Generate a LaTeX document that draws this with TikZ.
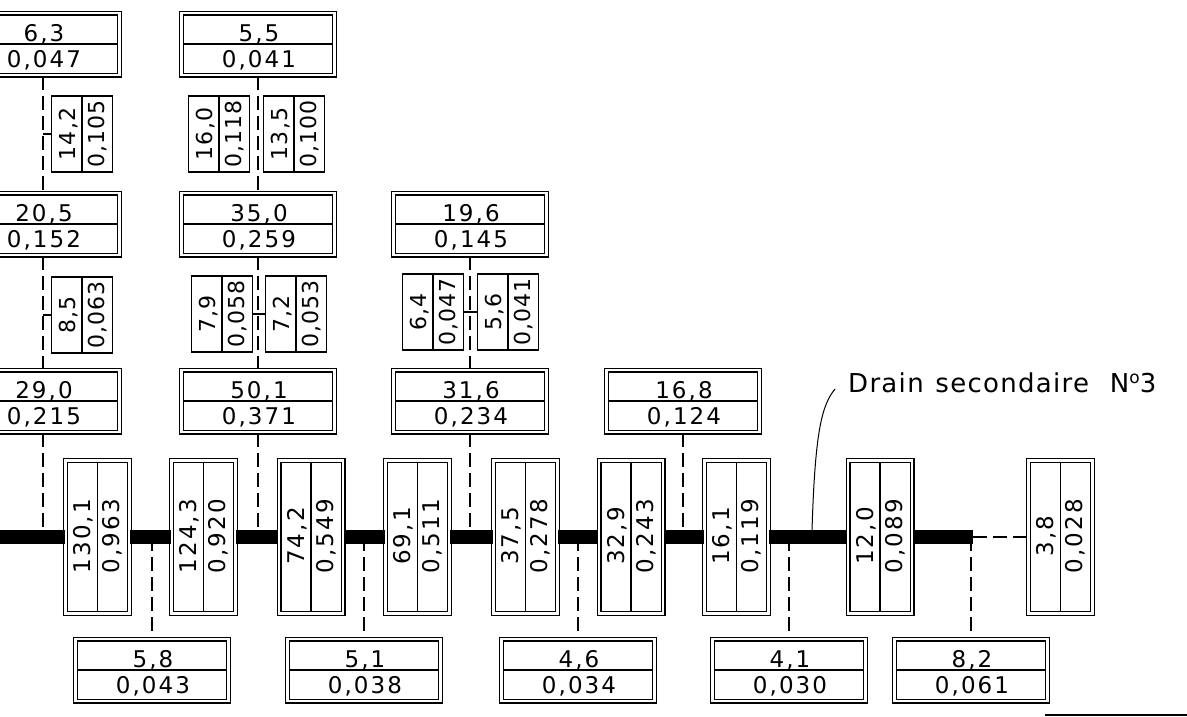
\documentclass[tikz,border=0pt]{standalone}
\usepackage{fontspec}
\setmainfont{DejaVu Sans}
\newfontfamily\numfont[LetterSpace=9]{DejaVu Sans}
\newfontfamily\smallnumfont[LetterSpace=5]{DejaVu Sans}
\newfontfamily\lblfont[LetterSpace=5]{DejaVu Sans}
\newcommand\hcell[5]{%
  \node[hframe] (#1) at (#2,#3) {};
  \draw[divline] ([xshift=2pt]#1.west) -- ([xshift=-2pt]#1.east);
  \node[num] (#1u) at ([xshift=1pt,yshift=3pt]#1.center) {#4};
  \node[num] (#1l) at ([xshift=1pt,yshift=-23pt]#1.center) {#5};
}
\newcommand\vcell[5]{%
  \node[vframe] (#1) at (#2,#3) {};
  \draw[divline] ([yshift=-2pt]#1.north) -- ([yshift=2pt]#1.south);
  \node[vnum] (#1a) at ([xshift=-7pt,yshift=1pt]#1.center) {#4};
  \node[vnum] (#1b) at ([xshift=22pt,yshift=1pt]#1.center) {#5};
}
\newcommand\scell[5]{%
  \node[sframe] (#1) at (#2,#3) {};
  \draw[divline] (#1.north) -- (#1.south);
  \node[snum] (#1a) at ([xshift=-7pt]#1.center) {#4};
  \node[snum] (#1b) at ([xshift=22pt]#1.center) {#5};
}
\begin{document}
\begin{tikzpicture}[x=1pt,y=-1pt,
  hframe/.style={draw, line width=1.3pt, double, double distance=2.4pt, inner sep=0pt, minimum width=153pt, minimum height=62pt},
  vframe/.style={draw, line width=1.3pt, double, double distance=2.4pt, inner sep=0pt, minimum width=64pt, minimum height=153pt},
  sframe/.style={draw, line width=1.1pt, inner sep=0pt, minimum width=61pt, minimum height=76pt},
  divline/.style={line width=1.1pt},
  num/.style={inner sep=0pt, anchor=base, font=\numfont\fontsize{23}{25}\selectfont},
  vnum/.style={num, rotate=90},
  snum/.style={inner sep=0pt, anchor=base, rotate=90, font=\smallnumfont\fontsize{22}{24}\selectfont},
  link/.style={line width=1.3pt, dash pattern=on 14pt off 6pt},
  drain/.style={line width=13.5pt},
  tick/.style={line width=1.1pt},
  leader/.style={line width=1pt},
  lbl/.style={inner sep=0pt, font=\lblfont\fontsize{26}{30}\selectfont},
]
\useasboundingbox (0,0) rectangle (1187,716);
\clip (0,0) rectangle (1187,716);

% junction coordinates on the drain
\coordinate (start) at (0,537);
\coordinate (dend) at (973,537);
\coordinate (jA) at (43,537);
\coordinate (jB) at (258,537);
\coordinate (jC) at (470,537);
\coordinate (jD) at (683,537);
\coordinate (jE) at (152,537);
\coordinate (jF) at (364,537);
\coordinate (jG) at (578,537);
\coordinate (jH) at (789,537);
\coordinate (jI) at (971,537);

% horizontal boxes
\hcell{A1}{43}{44}{6,3}{0,047}
\hcell{B1}{258}{44}{5,5}{0,041}
\hcell{A2}{43}{224}{20,5}{0,152}
\hcell{B2}{258}{224}{35,0}{0,259}
\hcell{C2}{470}{224}{19,6}{0,145}
\hcell{A3}{43}{401}{29,0}{0,215}
\hcell{B3}{258}{401}{50,1}{0,371}
\hcell{C3}{470}{401}{31,6}{0,234}
\hcell{D3}{683}{401}{16,8}{0,124}
\hcell{E}{152}{670}{5,8}{0,043}
\hcell{F}{364}{670}{5,1}{0,038}
\hcell{G}{578}{670}{4,6}{0,034}
\hcell{H}{789}{670}{4,1}{0,030}
\hcell{I}{971}{670}{8,2}{0,061}

% small boxes between rows
\scell{s1}{82}{134}{14,2}{0,105}
\scell{s2}{219}{134}{16,0}{0,118}
\scell{s3}{294}{134}{13,5}{0,100}
\scell{s4}{82}{315}{8,5}{0,063}
\scell{s5}{222}{314}{7,9}{0,058}
\scell{s6}{296}{314}{7,2}{0,053}
\scell{s7}{433}{312}{6,4}{0,047}
\scell{s8}{508}{312}{5,6}{0,041}

% vertical boxes on the drain
\vcell{v1}{97.5}{537}{130,1}{0,963}
\vcell{v2}{203.5}{537}{124,3}{0,920}
\vcell{v3}{311}{537}{74,2}{0,549}
\vcell{v4}{417.5}{537}{69,1}{0,511}
\vcell{v5}{525.5}{537}{37,5}{0,278}
\vcell{v6}{631}{537}{32,9}{0,243}
\vcell{v7}{736.5}{537}{16,1}{0,119}
\vcell{v8}{880}{537}{12,0}{0,089}
\vcell{v9}{1060.5}{537}{3,8}{0,028}

% dashed connectors
\draw[link] (A1.south) -- (A2.north);
\draw[link] (A2.south) -- (A3.north);
\draw[link] (A3.south) -- (jA);
\draw[link] (B1.south) -- (B2.north);
\draw[link] (B2.south) -- (B3.north);
\draw[link] (B3.south) -- (jB);
\draw[link] (C2.south) -- (C3.north);
\draw[link] (C3.south) -- (jC);
\draw[link] (D3.south) -- (jD);
\draw[link] (jE) -- (E.north);
\draw[link] (jF) -- (F.north);
\draw[link] (jG) -- (G.north);
\draw[link] (jH) -- (H.north);
\draw[link] (jI) -- (I.north);
\draw[link] (dend) -- (v9.west);

% ticks to small boxes
\draw[tick] (s1.west) -- (s1.west -| A1.south);
\draw[tick] (s4.west) -- (s4.west -| A2.south);
\draw[tick] (s5.east) -- (s6.west);
\draw[tick] (s7.east) -- (s8.west);

% the drain
\draw[drain] (start) -- (v1.west);
\draw[drain] (v1.east) -- (v2.west);
\draw[drain] (v2.east) -- (v3.west);
\draw[drain] (v3.east) -- (v4.west);
\draw[drain] (v4.east) -- (v5.west);
\draw[drain] (v5.east) -- (v6.west);
\draw[drain] (v6.east) -- (v7.west);
\draw[drain] (v7.east) -- (v8.west);
\draw[drain] (v8.east) -- (dend);

% label with leader
\node[lbl, anchor=base west] (lbl) at (848,392) {Drain\hspace{0.45em}secondaire\hspace{0.8em}N\raisebox{0.33em}{\fontsize{17}{17}\selectfont o}3};
\coordinate (lead) at (812,531);
\draw[leader] ([xshift=-13pt,yshift=3pt]lbl.base west) .. controls (822,405) and (815,430) .. (lead);

% stray rule at bottom right
\coordinate (r1) at (1045,715);
\coordinate (r2) at (1187,715);
\draw[line width=1.3pt] (r1) -- (r2);
\end{tikzpicture}
\end{document}
